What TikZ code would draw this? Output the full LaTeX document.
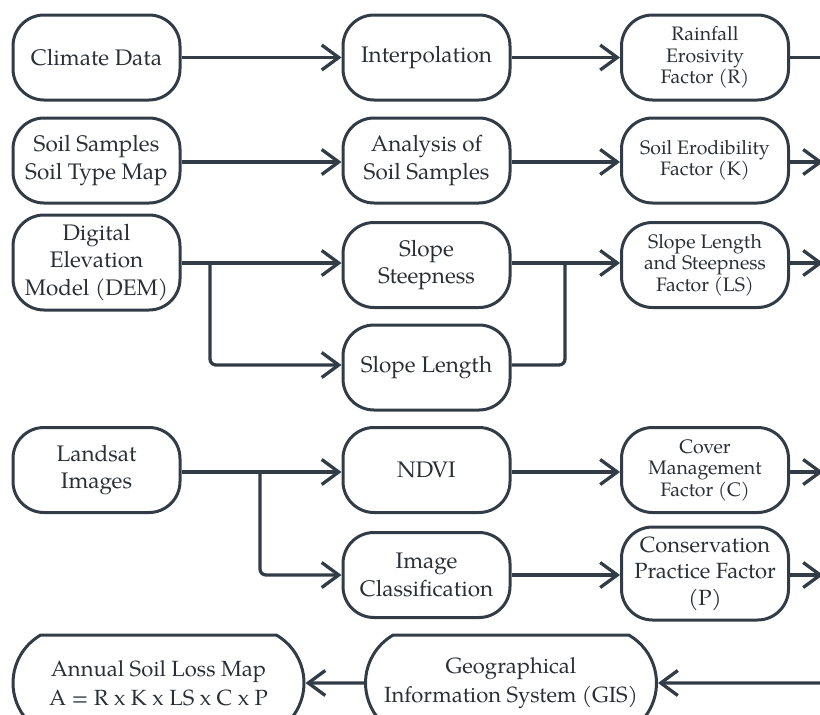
\documentclass[tikz,border=0pt]{standalone}
\usepackage{fontspec}
\setmainfont{texgyrepagella-regular.otf}
\usetikzlibrary{arrows.meta,shapes.misc}
\definecolor{ink}{RGB}{50,60,70}
\definecolor{txt}{RGB}{42,47,53}
\tikzset{
  box/.style={draw=ink, line width=3pt, rounded corners=31pt, minimum width=167pt, minimum height=85pt,
    inner sep=1pt, align=center, text=txt, font=\fontsize{22.5}{27.5}\selectfont},
  sbox/.style={box, font=\fontsize{19.5}{21.5}\selectfont},
  bbox/.style={draw=ink, line width=3pt, rounded rectangle, rounded rectangle arc length=120,
    minimum width=293pt, minimum height=96pt, inner sep=1pt, align=center, text=txt,
    font=\fontsize{22}{28.5}\selectfont},
  con/.style={draw=ink, line width=3.3pt},
  arr/.style={con, -{Straight Barb[length=17pt,width=25pt]}},
  elbow/.style={arr, rounded corners=6pt}
}
\begin{document}
\begin{tikzpicture}[x=1pt,y=-1pt]
\useasboundingbox (0,0) rectangle (820,715);
\clip (0,0) rectangle (820,715);
% row 1
\node[box] (clim) at (96.5,57.5) {Climate Data};
\node[box] (interp) at (426.5,57.5) {Interpolation};
\node[sbox] (rfac) at (705,57.5) {Rainfall\\Erosivity\\Factor (R)};
\coordinate (rout) at (840,57.5);
% row 2
\node[box] (soil) at (96.5,160.5) {Soil Samples\\Soil Type Map};
\node[box] (anal) at (426.5,160.5) {Analysis of\\Soil Samples};
\node[sbox] (kfac) at (705,160.5) {Soil Erodibility\\Factor (K)};
\coordinate (kout) at (823,160.5);
% row 3
\node[box, minimum height=95pt] (dem) at (96.5,262.5) {Digital\\Elevation\\Model (DEM)};
\node[box] (steep) at (426.5,265) {Slope\\Steepness};
\node[box] (slen) at (426.5,367.5) {Slope Length};
\node[sbox] (lsfac) at (705,265) {Slope Length\\and Steepness\\Factor (LS)};
\coordinate (lsout) at (823,265);
% row 4
\node[box] (land) at (96.5,470) {Landsat\\Images};
\node[box] (ndvi) at (426.5,470) {NDVI};
\node[box] (imgc) at (426.5,575) {Image\\Classification};
\node[sbox] (cfac) at (705,470) {Cover\\Management\\Factor (C)};
\node[box, minimum height=93pt, font=\fontsize{22}{26.5}\selectfont] (pfac) at (705,573.5) {Conservation\\Practice Factor\\(P)};
\coordinate (cout) at (823,470);
\coordinate (pout) at (823,575);
% row 5
\node[bbox] (annual) at (158.5,683) {Annual Soil Loss Map\\A = R x K x LS x C x P};
\node[bbox] (gis) at (511,683) {Geographical\\Information System (GIS)};
\coordinate (gin) at (840,683);
% connectors
\draw[arr] (clim) -- (interp);
\draw[arr] (interp) -- (rfac);
\draw[con] (rfac) -- (rout);
\draw[arr] (soil.east |- 0,162) -- (anal.west |- 0,162);
\draw[arr] (anal.east |- 0,162) -- (kfac.west |- 0,162);
\draw[arr] (kfac.east |- 0,162) -- (kout |- 0,162);
\draw[arr] (dem.east |- 0,263) -- (steep.west |- 0,263);
\draw[elbow] (210,263) |- (slen.west |- 0,365);
\draw[arr] (steep.east |- 0,263) -- (lsfac.west |- 0,263);
\draw[con, rounded corners=6pt] (slen.east |- 0,365) -| (565,263);
\draw[arr] (lsfac.east |- 0,263) -- (lsout |- 0,263);
\draw[arr] (land.east |- 0,472) -- (ndvi.west |- 0,472);
\draw[elbow] (260,472) |- (imgc.west |- 0,575);
\draw[arr] (ndvi.east |- 0,472) -- (cfac.west |- 0,472);
\draw[arr] (cfac.east |- 0,472) -- (cout |- 0,472);
\draw[arr] (imgc.east |- 0,575) -- (pfac.west |- 0,575);
\draw[arr] (pfac.east |- 0,575) -- (pout);
\draw[arr] (gin) -- (gis);
\draw[arr] (gis) -- (annual);
\end{tikzpicture}
\end{document}
